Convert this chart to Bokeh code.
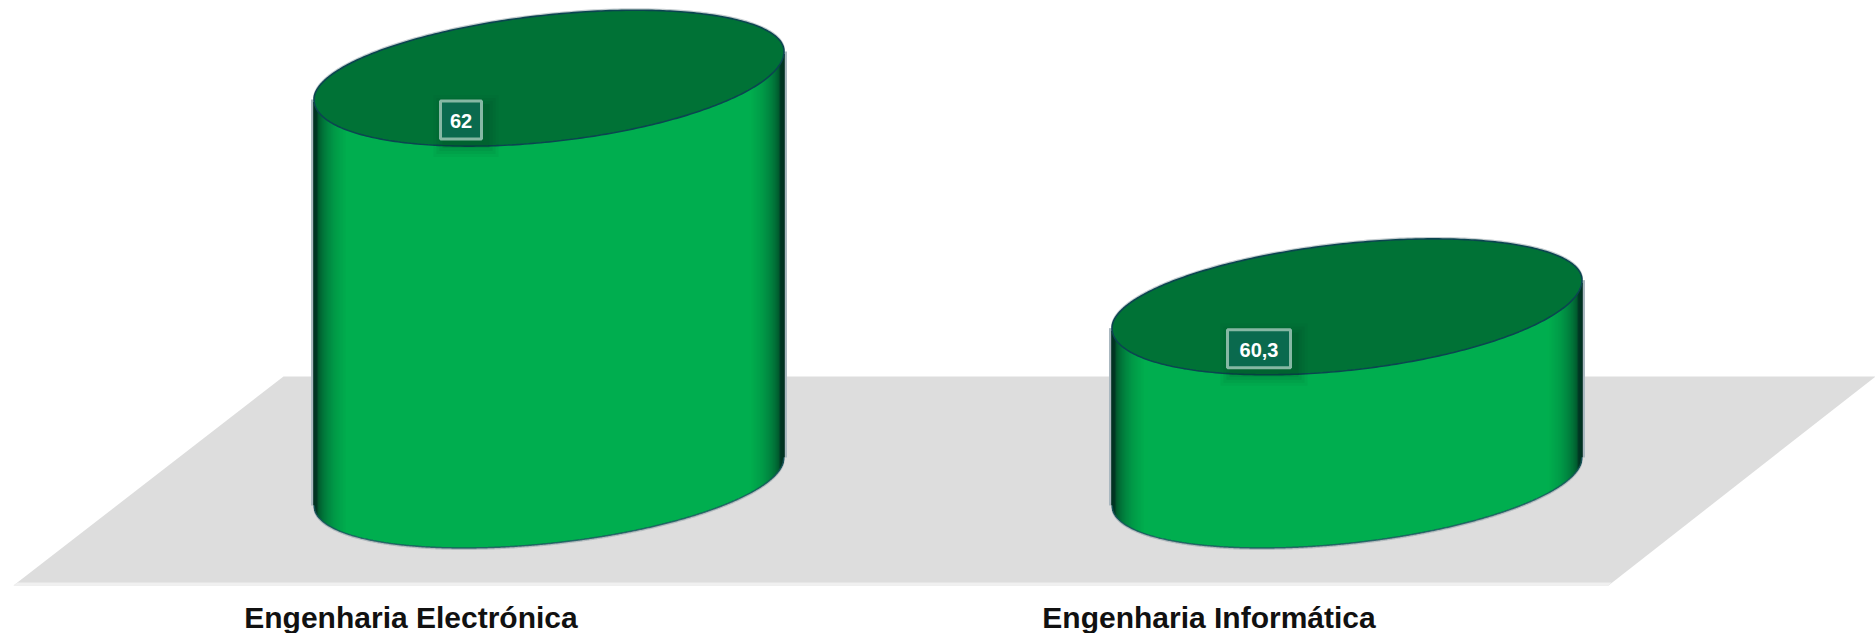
import numpy as np
from bokeh.plotting import figure
from bokeh.models import Range1d
from bokeh.core.properties import value
from bokeh.embed import file_html
from bokeh.resources import INLINE

# data
categories = ["Engenharia Electrónica", "Engenharia Informática"]
values = [62, 60.3]
value_labels = ["62", "60,3"]
axis_min = 59

# page geometry (pixels in the 1875x633 picture)
W, H = 1875, 633
PX_PER_CAT = 798
FIRST_CX = 548.5
PX_PER_VAL = 134.5
BASE_PY = 481
X_RANGE = Range1d((0 - FIRST_CX) / PX_PER_CAT, (W - FIRST_CX) / PX_PER_CAT)
Y_RANGE = Range1d(axis_min - (H - BASE_PY) / PX_PER_VAL, axis_min + BASE_PY / PX_PER_VAL)

def X(px):
    return (px - FIRST_CX) / PX_PER_CAT

def Y(py):
    return axis_min + (BASE_PY - py) / PX_PER_VAL

p = figure(width=W, height=H, x_range=X_RANGE, y_range=Y_RANGE, output_backend="svg",
           toolbar_location=None, min_border=0, outline_line_color=None,
           background_fill_color="white", border_fill_color="white")
p.axis.visible = False
p.grid.visible = False
p.styles = {"position": "absolute", "left": "0px", "top": "0px"}

# floor
FLOOR = [(13, 585), (283, 376), (1875, 376), (1608, 585)]
FLOOR_EDGE = [(13, 585), (17, 582), (1611, 582), (1608, 585)]
p.patch([X(a) for a, _ in FLOOR], [Y(b) for _, b in FLOOR], fill_color="#dddddd", line_color=None)
p.patch([X(a) for a, _ in FLOOR_EDGE], [Y(b) for _, b in FLOOR_EDGE], fill_color="#f0f0f0", line_color=None)

# cylinders
HALF = 235
A = HALF / PX_PER_CAT          # half width in category units
K = 24 / PX_PER_VAL            # tilt, value units
B_LOW_BASE = 62 / PX_PER_VAL   # bottom edge depth
B_TOP_UP = 60.7 / PX_PER_VAL   # top face, far half
B_TOP_LOW = 66.4 / PX_PER_VAL  # top face, near half
LIFT = 2.5 / PX_PER_VAL        # top face centre sits a little above the value
MAIN = "#00ae4f"

def side_colour(d):
    stops = [0, 3, 5, 9, 15, 22, 33]
    g = np.interp(d, stops, [46, 50, 88, 112, 136, 156, 174])
    b = np.interp(d, stops, [32, 34, 46, 56, 65, 72, 79])
    return "#00%02x%02x" % (int(g), int(b))

theta = np.linspace(0, 2 * np.pi, 361)
for i, v in enumerate(values):
    px = np.arange(-HALF, HALF + 1)
    t = px / HALF
    xs = i + t * A
    bottom = axis_min + K * t - B_LOW_BASE * np.sqrt(1 - t ** 2)
    top = v + K * t

    # outer fringes
    p.line([i - A - 1.5 / PX_PER_CAT] * 2, [axis_min - K, v - K + LIFT], line_color="#aab8c0", line_width=3)
    p.line([i + A + 1.5 / PX_PER_CAT] * 2, [axis_min + K, v + K + LIFT], line_color="#aab8c0", line_width=3)
    p.line(xs, bottom - 1 / PX_PER_VAL, line_color="#8a9aa0", line_width=2, line_alpha=0.5)

    # side, painted as vertical strips over a flat base
    p.varea(xs, bottom, top, fill_color=MAIN)
    cols = [side_colour(min(q + HALF, HALF - q)) for q in px]
    edge = np.minimum(px + HALF, HALF - px) < 36
    p.segment(xs[edge], bottom[edge], xs[edge], top[edge],
              line_color=[c for c, e in zip(cols, edge) if e], line_width=1.6)
    p.line(xs, bottom, line_color="#16525c", line_width=1.5, line_alpha=0.8)

    # top face
    s = np.sin(theta)
    ex = i + A * np.cos(theta)
    ey = v + LIFT + K * np.cos(theta) + np.where(s > 0, B_TOP_UP, B_TOP_LOW) * s
    far = s >= 0
    p.line(ex[far], ey[far] + 1 / PX_PER_VAL, line_color="#8a9aa0", line_width=2, line_alpha=0.5)
    p.patch(ex, ey, fill_color="#007236", line_color="#0b4550", line_width=1.6)

# value labels
for i, (v, s) in enumerate(zip(values, value_labels)):
    bx = i - 88 / PX_PER_CAT
    by = v - 42 / PX_PER_VAL
    w = 41 if i == 0 else 63
    # soft shadow
    for grow, alpha in zip([24, 18, 12, 6], [0.05, 0.06, 0.08, 0.10]):
        p.rect(bx + 5 / PX_PER_CAT, by - 6 / PX_PER_VAL, width=(w + grow) / PX_PER_CAT,
               height=(38 + grow) / PX_PER_VAL, fill_color="#003a22", fill_alpha=alpha, line_color=None)
    p.rect(bx, by, width=w / PX_PER_CAT, height=38 / PX_PER_VAL, fill_color="#0a6a4e",
           line_color="#86b8a4", line_width=3)
    p.text([bx], [by - 1 / PX_PER_VAL], text=[s], text_color="white", text_align="center", text_baseline="middle",
           text_font=value("Liberation Sans"), text_font_style="bold", text_font_size="20px")

# category labels
p.text([i - 138 / PX_PER_CAT for i in range(len(categories))], [Y(617)] * len(categories), text=categories,
       text_color="#111111", text_align="center", text_baseline="alphabetic",
       text_font=value("Liberation Sans"), text_font_style="bold", text_font_size="30px")

open("out.html", "w").write(file_html(p, INLINE))
